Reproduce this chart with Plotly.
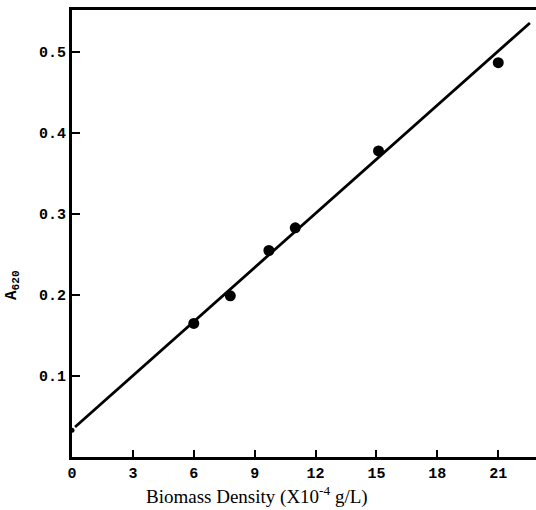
import plotly.graph_objects as go

# data
density = [6.0, 7.8, 9.7, 11.0, 15.1, 21.0]
absorbance = [0.165, 0.199, 0.255, 0.283, 0.378, 0.487]
intercept_x = [0.0]
intercept_y = [0.033]
fit_x = [0.15, 22.56]
fit_y = [0.037, 0.536]
x_ticks = [0, 3, 6, 9, 12, 15, 18, 21]
y_ticks = [0.1, 0.2, 0.3, 0.4, 0.5]
y_ticklabels = ["0.1", "0.2", "0.3", "0.4", "0.5"]

fig = go.Figure()
fig.add_trace(go.Scatter(x=fit_x, y=fit_y, mode="lines",
                         line=dict(color="black", width=2.8), showlegend=False))
fig.add_trace(go.Scatter(x=density, y=absorbance, mode="markers",
                         marker=dict(color="black", size=11), showlegend=False))
fig.add_trace(go.Scatter(x=intercept_x, y=intercept_y, mode="markers",
                         marker=dict(color="black", size=5), showlegend=False, cliponaxis=False))

tickfont = dict(family="Liberation Mono", size=15, color="black")
fig.update_xaxes(range=[0, 22.86], tickvals=x_ticks, ticktext=[f"<b>{v}</b>" for v in x_ticks],
                 ticks="inside", ticklen=7, tickwidth=2, tickcolor="black",
                 showline=True, linecolor="black", linewidth=3, mirror=True,
                 showgrid=False, zeroline=False, tickfont=tickfont)
fig.update_yaxes(range=[0, 0.552], tickvals=y_ticks, ticktext=[f"<b>{t}</b>" for t in y_ticklabels],
                 ticks="inside", ticklen=8, tickwidth=2, tickcolor="black",
                 showline=True, linecolor="black", linewidth=3,
                 showgrid=False, zeroline=False, tickfont=tickfont)

fig.add_annotation(text="Biomass Density (X10<sup>-4</sup> g/L)", xref="paper", yref="paper",
                   x=(257 - 72) / 464, y=-38 / 447, showarrow=False,
                   font=dict(family="Liberation Serif", size=19, color="black"),
                   xanchor="center", yanchor="middle")
fig.add_annotation(text="<b>A<sub>620</sub></b>", xref="paper", yref="paper",
                   x=-60 / 464, y=(457 - 285) / 447, showarrow=False, textangle=-90,
                   font=dict(family="Liberation Mono", size=16, color="black"),
                   xanchor="center", yanchor="middle")

fig.update_layout(width=536, height=510, margin=dict(l=72, r=0, t=10, b=53),
                  paper_bgcolor="white", plot_bgcolor="white")
fig.write_html("out.html")
